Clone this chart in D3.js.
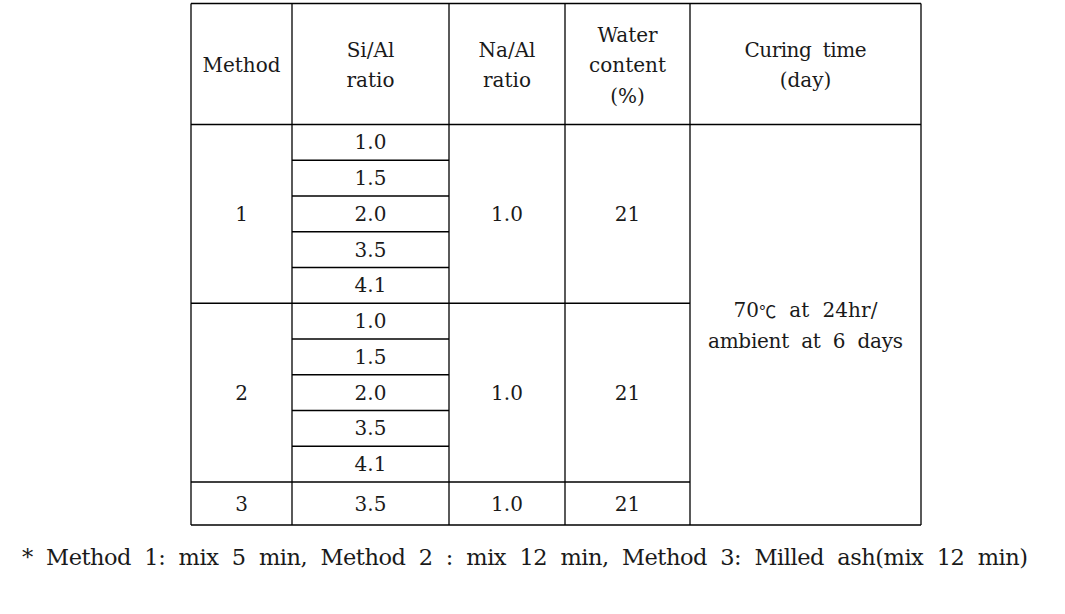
<!DOCTYPE html>
<html>
<head>
<meta charset="utf-8">
<script src="https://cdn.jsdelivr.net/npm/d3@7"></script>
<style>
  html, body { margin: 0; padding: 0; background: #ffffff; }
  svg { display: block; }
  text { font-family: "DejaVu Serif", "Liberation Serif", serif; fill: #1a1a1a; }
</style>
</head>
<body>
<svg id="chart" width="1065" height="614"></svg>
<script>
// ---- data ----
const headers = [["Method"], ["Si/Al", "ratio"], ["Na/Al", "ratio"], ["Water", "content", "(%)"], ["Curing  time", "(day)"]];
const methods = ["1", "2", "3"];
const siAlRatios = [["1.0", "1.5", "2.0", "3.5", "4.1"], ["1.0", "1.5", "2.0", "3.5", "4.1"], ["3.5"]];
const naAlRatios = ["1.0", "1.0", "1.0"];
const waterContent = ["21", "21", "21"];
const curingTime = [["70", "\u2103", "  at  24hr/"], ["ambient  at  6  days"]];
const footnote = "*  Method  1:  mix  5  min,  Method  2  :  mix  12  min,  Method  3:  Milled  ash(mix  12  min)";

// ---- layout ----
const svg = d3.select("#chart");
const colEdges = [191, 292, 449, 565, 690, 921];
const tableTop = 3.5, headBottom = 124.5;
const nRows = d3.sum(siAlRatios, d => d.length);
const rowY = d3.scaleLinear().domain([0, nRows - 1]).range([headBottom, 482]);
const tableBottom = 525;
const edgeY = i => (i <= nRows - 1 ? rowY(i) : tableBottom);
const colMid = c => (colEdges[c] + colEdges[c + 1]) / 2;
const fs = 20;
const lineW = 1.3;

// method blocks
let start = 0;
const blocks = methods.map((m, i) => {
  const b = { method: m, start, end: start + siAlRatios[i].length, si: siAlRatios[i], na: naAlRatios[i], water: waterContent[i] };
  start = b.end;
  return b;
});

const g = svg.append("g");
const line = (x1, y1, x2, y2) => g.append("line").attr("x1", x1).attr("y1", y1).attr("x2", x2).attr("y2", y2)
  .attr("stroke", "#000").attr("stroke-width", lineW);

// outer border & header line
line(colEdges[0], tableTop, colEdges[5], tableTop);
line(colEdges[0], tableBottom, colEdges[5], tableBottom);
line(colEdges[0], headBottom, colEdges[5], headBottom);
colEdges.forEach(x => line(x, tableTop, x, tableBottom));

// method block separators (not across curing column)
blocks.slice(1).forEach(b => line(colEdges[0], edgeY(b.start), colEdges[4], edgeY(b.start)));
// inner Si/Al row lines
blocks.forEach(b => {
  d3.range(b.start + 1, b.end).forEach(r => line(colEdges[1], edgeY(r), colEdges[2], edgeY(r)));
});

const txt = (x, y, t) => g.append("text").attr("x", x).attr("y", y).attr("text-anchor", "middle")
  .attr("dominant-baseline", "central").attr("font-size", fs).style("white-space", "pre").text(t);

// header text
const headLH = 30.5;
const headWidths = { "Curing  time": 122 };
headers.forEach((lines, c) => {
  const cy = (tableTop + headBottom) / 2 + 1;
  lines.forEach((t, k) => {
    const el = txt(colMid(c), cy + (k - (lines.length - 1) / 2) * headLH, t);
    if (headWidths[t]) el.attr("textLength", headWidths[t]).attr("lengthAdjust", "spacing");
  });
});

// body text
blocks.forEach(b => {
  const cy = (edgeY(b.start) + edgeY(b.end)) / 2;
  txt(colMid(0), cy, b.method);
  txt(colMid(2), cy, b.na);
  txt(colMid(3), cy, b.water);
  b.si.forEach((v, k) => txt(colMid(1), (edgeY(b.start + k) + edgeY(b.start + k + 1)) / 2, v));
});

// curing text
const curingWidths = [144, 195];
curingTime.forEach((parts, k) => {
  const el = g.append("text").attr("x", colMid(4)).attr("y", 310 + k * 31).attr("text-anchor", "middle")
    .attr("dominant-baseline", "central").attr("font-size", fs).style("white-space", "pre")
    .attr("textLength", curingWidths[k]).attr("lengthAdjust", "spacing");
  parts.forEach(p => {
    const ts = el.append("tspan").text(p);
    if (p === "\u2103") ts.style("font-family", "'Noto Sans CJK KR'").attr("font-size", fs * 0.85);
  });
});

// footnote
g.append("text").attr("x", 22).attr("y", 557).attr("dominant-baseline", "central")
  .attr("font-size", 22.5).style("white-space", "pre")
  .attr("textLength", 1006).attr("lengthAdjust", "spacing").text(footnote);
</script>
</body>
</html>
